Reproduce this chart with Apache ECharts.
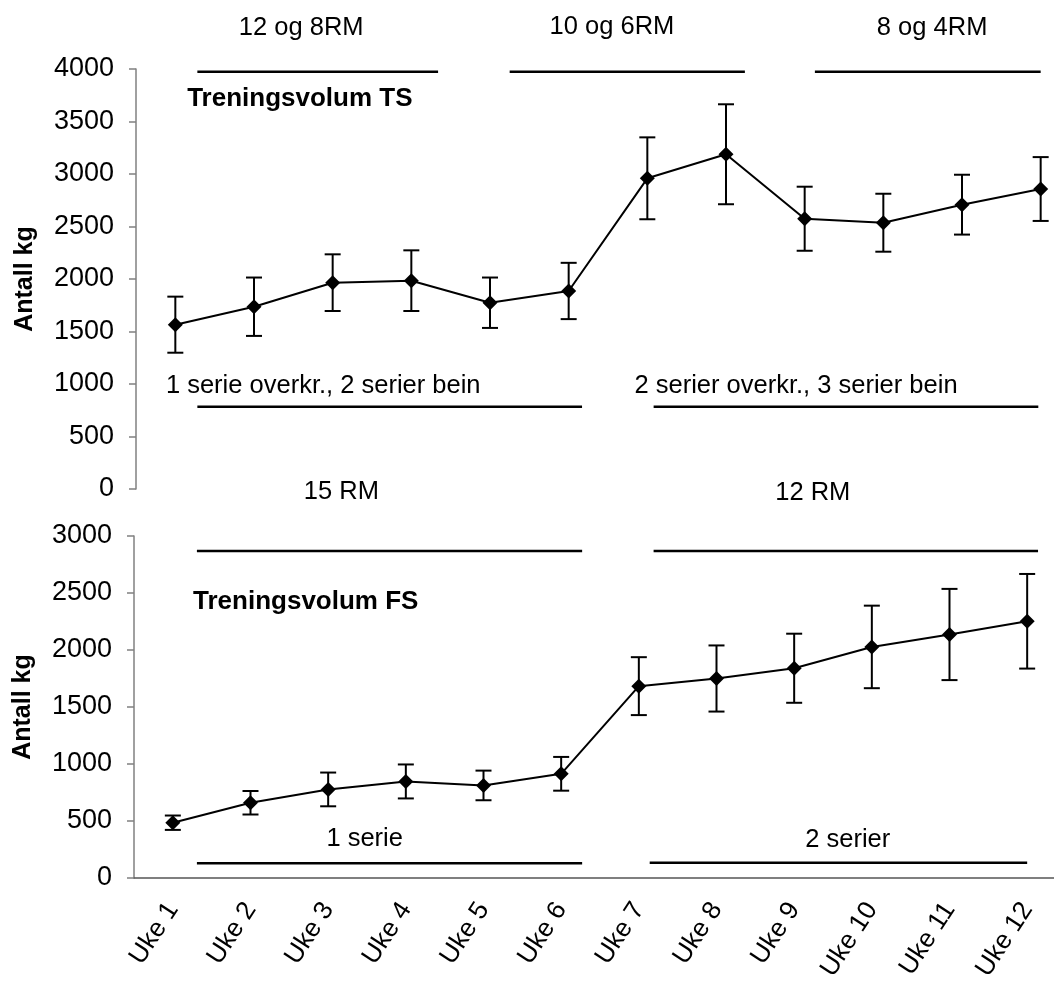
<!DOCTYPE html>
<html>
<head>
<meta charset="utf-8">
<script src="https://cdn.jsdelivr.net/npm/echarts@6/dist/echarts.min.js"></script>
<style>
html,body{margin:0;padding:0;background:#fff;}
#chart{width:1054px;height:981px;}
</style>
</head>
<body>
<div id="chart"></div>
<script>
//data
var weeks=["Uke 1","Uke 2","Uke 3","Uke 4","Uke 5","Uke 6","Uke 7","Uke 8","Uke 9","Uke 10","Uke 11","Uke 12"];
var tsMean=[1565,1736,1965,1984,1774,1886,2959,3188,2574,2536,2708,2857];
var tsErr=[267,278,270,289,240,268,390,476,305,276,285,304];
var fsMean=[485,660,777,847,812,914,1683,1750,1840,2027,2136,2252];
var fsErr=[63,103,148,149,130,148,254,290,303,362,400,415];
var tsTicks=[0,4000,500];
var fsTicks=[0,3000,500];

//annotations, x in week units, y in kg
var topLines=[[1.28,4.34,3974],[5.25,8.24,3974],[9.13,12.0,3974],[1.28,6.17,784],[7.08,11.97,784]];
var topTexts=[[2.6,4390,"12 og 8RM"],[6.55,4400,"10 og 6RM"],[10.62,4390,"8 og 4RM"],[2.88,980,"1 serie overkr., 2 serier bein"],[8.89,980,"2 serier overkr., 3 serier bein"]];
var botLines=[[1.31,6.27,2869],[7.19,12.14,2869],[1.31,6.27,129],[7.14,12.0,134]];
var botTexts=[[3.17,3386,"15 RM"],[9.24,3380,"12 RM"],[3.47,339,"1 serie"],[9.69,334,"2 serier"]];
var titles=[[1.15,3717,"Treningsvolum TS",2],[1.26,2419,"Treningsvolum FS",3]];

var font='"Liberation Sans", Arial, sans-serif';

function errRender(params,api){
    var x=api.value(0),m=api.value(1),e=api.value(2);
    var hi=api.coord([x,m+e]),lo=api.coord([x,m-e]);
    var w=8,st={stroke:"#000",lineWidth:2};
    return {type:"group",children:[
        {type:"line",shape:{x1:hi[0],y1:hi[1],x2:lo[0],y2:lo[1]},style:st},
        {type:"line",shape:{x1:hi[0]-w,y1:hi[1],x2:hi[0]+w,y2:hi[1]},style:st},
        {type:"line",shape:{x1:lo[0]-w,y1:lo[1],x2:lo[0]+w,y2:lo[1]},style:st}
    ]};
}
function lineRender(params,api){
    var a=api.coord([api.value(0),api.value(2)]),b=api.coord([api.value(1),api.value(2)]);
    return {type:"line",shape:{x1:a[0],y1:a[1],x2:b[0],y2:b[1]},style:{stroke:"#000",lineWidth:2.5}};
}
function textRender(list,bold,align){
    return function(params,api){
        var p=api.coord([api.value(0),api.value(1)]);
        return {type:"text",x:p[0],y:p[1],style:{text:list[params.dataIndex][2],fontSize:bold?26:25.5,
            fontWeight:bold?"bold":"normal",fontFamily:font,fill:"#000",align:align,verticalAlign:"middle"}};
    };
}
function pts(mean,err){
    return mean.map(function(v,i){return [i,v,err[i]];});
}
function yAxis(t,grid){
    return {type:"value",gridIndex:grid,min:t[0],max:t[1],interval:t[2],
        name:"Antall kg",nameLocation:"middle",nameGap:98,
        nameTextStyle:{fontFamily:font,fontSize:25,fontWeight:"bold",color:"#000"},
        axisLine:{show:true,lineStyle:{color:"#808080",width:1.5}},
        axisTick:{show:true,length:7,lineStyle:{color:"#808080",width:1.5}},
        axisLabel:{fontFamily:font,fontSize:27,color:"#000",margin:22,formatter:function(v){return String(v);}},
        splitLine:{show:false}};
}

var chart=echarts.init(document.getElementById("chart"));
var option={
    animation:false,
    backgroundColor:"#fff",
    grid:[
        {left:136,top:69,width:944,height:420,containLabel:false,outerBoundsMode:"none"},
        {left:134,top:536,width:932,height:342,containLabel:false,outerBoundsMode:"none"}
    ],
    xAxis:[
        {type:"category",gridIndex:0,data:weeks,show:false},
        {type:"value",gridIndex:0,min:0.5,max:12.5,show:false},
        {type:"category",gridIndex:1,data:weeks,
            axisLine:{lineStyle:{color:"#555",width:1.5}},
            axisTick:{length:8,lineStyle:{color:"#555",width:1.5}},
            axisLabel:{rotate:57,fontFamily:font,fontSize:26,color:"#000",margin:27}},
        {type:"value",gridIndex:1,min:0.5,max:12.5,show:false}
    ],
    yAxis:[yAxis(tsTicks,0),yAxis(fsTicks,1)],
    series:[
        {type:"custom",xAxisIndex:0,yAxisIndex:0,data:pts(tsMean,tsErr),renderItem:errRender,encode:{x:0,y:1},z:2},
        {type:"line",xAxisIndex:0,yAxisIndex:0,data:tsMean,symbol:"diamond",symbolSize:15,
            itemStyle:{color:"#000"},lineStyle:{color:"#000",width:2},z:3},
        {type:"custom",xAxisIndex:2,yAxisIndex:1,data:pts(fsMean,fsErr),renderItem:errRender,encode:{x:0,y:1},z:2},
        {type:"line",xAxisIndex:2,yAxisIndex:1,data:fsMean,symbol:"diamond",symbolSize:15,
            itemStyle:{color:"#000"},lineStyle:{color:"#000",width:2},z:3},
        //brackets and labels
        {type:"custom",xAxisIndex:1,yAxisIndex:0,data:topLines,renderItem:lineRender,encode:{x:[0,1],y:2},clip:false},
        {type:"custom",xAxisIndex:3,yAxisIndex:1,data:botLines,renderItem:lineRender,encode:{x:[0,1],y:2},clip:false},
        {type:"custom",xAxisIndex:1,yAxisIndex:0,data:topTexts.map(function(t){return [t[0],t[1]];}),
            renderItem:textRender(topTexts,false,"center"),encode:{x:0,y:1},clip:false},
        {type:"custom",xAxisIndex:3,yAxisIndex:1,data:botTexts.map(function(t){return [t[0],t[1]];}),
            renderItem:textRender(botTexts,false,"center"),encode:{x:0,y:1},clip:false},
        {type:"custom",xAxisIndex:1,yAxisIndex:0,data:[[titles[0][0],titles[0][1]]],
            renderItem:textRender([titles[0]],true,"left"),encode:{x:0,y:1},clip:false},
        {type:"custom",xAxisIndex:3,yAxisIndex:1,data:[[titles[1][0],titles[1][1]]],
            renderItem:textRender([titles[1]],true,"left"),encode:{x:0,y:1},clip:false}
    ]
};
chart.setOption(option);
</script>
</body>
</html>
